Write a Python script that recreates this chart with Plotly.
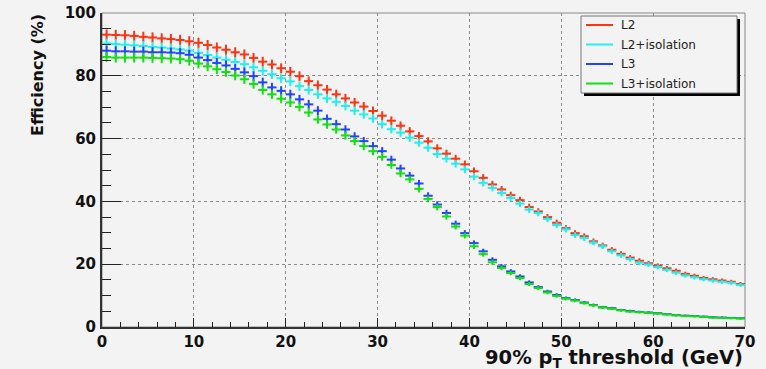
import numpy as np
import plotly.graph_objects as go

# ---- data (bin centres of 1 GeV bins, efficiencies in %) ----
threshold = [i + 0.5 for i in range(70)]
bin_half_width = 0.5

eff_L2 = [93.1, 93.0, 92.9, 92.7, 92.4, 92.2, 91.9, 91.7, 91.4, 91.0,
          90.5, 89.8, 89.0, 88.3, 87.5, 86.8, 85.7, 84.5, 83.6, 82.4,
          81.3, 79.9, 78.3, 77.0, 75.6, 74.1, 72.8, 71.5, 70.2, 68.8,
          67.3, 65.7, 64.1, 62.3, 60.8, 59.1, 56.9, 55.2, 53.6, 51.8,
          49.6, 47.5, 45.4, 43.8, 42.0, 40.4, 38.2, 36.8, 35.0, 33.2,
          31.5, 29.9, 28.9, 27.3, 26.0, 24.6, 23.3, 22.1, 21.1, 20.3,
          19.5, 18.7, 17.9, 16.9, 16.3, 15.6, 15.2, 14.8, 14.4, 13.7]
eff_L2_iso = [90.3, 90.1, 89.9, 89.7, 89.5, 89.2, 89.0, 88.7, 88.4, 88.0,
              87.3, 86.6, 85.8, 85.1, 84.4, 83.7, 82.7, 81.6, 80.5, 79.2,
              78.2, 76.7, 75.5, 74.1, 72.8, 71.7, 70.4, 68.9, 67.7, 66.4,
              64.6, 63.0, 61.9, 60.3, 58.7, 57.1, 55.1, 53.6, 52.0, 50.2,
              47.9, 45.9, 44.3, 42.7, 41.1, 39.3, 37.4, 36.3, 34.4, 32.5,
              31.1, 29.3, 28.3, 26.9, 25.7, 24.1, 22.8, 21.6, 20.5, 19.9,
              19.1, 18.2, 17.3, 16.4, 15.8, 15.2, 14.8, 14.4, 14.1, 13.4]
eff_L3 = [88.0, 87.8, 87.8, 87.7, 87.7, 87.5, 87.5, 87.4, 87.2, 86.7,
          85.8, 85.0, 84.1, 83.3, 82.2, 81.1, 79.9, 77.9, 76.3, 75.2,
          74.1, 72.5, 70.9, 68.9, 66.3, 64.6, 62.9, 60.7, 59.2, 57.6,
          56.0, 53.3, 50.5, 48.2, 45.7, 41.8, 39.0, 36.3, 32.9, 29.9,
          26.7, 24.1, 21.4, 19.3, 17.7, 16.1, 14.2, 12.7, 11.3, 10.2,
          9.2, 8.6, 7.8, 7.0, 6.3, 6.0, 5.4, 5.1, 4.8, 4.6,
          4.4, 4.1, 3.8, 3.6, 3.5, 3.3, 3.1, 3.0, 2.9, 2.8]
eff_L3_iso = [86.0, 85.8, 85.8, 85.8, 85.8, 85.7, 85.6, 85.5, 85.3, 84.8,
              83.9, 83.0, 82.1, 81.2, 80.1, 78.9, 77.4, 75.5, 74.1, 72.7,
              71.5, 70.1, 68.3, 66.1, 64.5, 62.9, 61.0, 59.2, 57.6, 56.0,
              54.2, 51.6, 48.9, 47.0, 44.0, 40.8, 38.2, 35.2, 32.0, 29.1,
              25.7, 23.2, 20.6, 18.8, 17.2, 15.6, 13.7, 12.4, 11.0, 9.9,
              9.0, 8.4, 7.6, 6.9, 6.2, 5.8, 5.3, 4.9, 4.7, 4.5,
              4.3, 4.0, 3.7, 3.5, 3.4, 3.2, 3.0, 2.9, 2.8, 2.7]

series_names = ["L2", "L2+isolation", "L3", "L3+isolation"]
series_values = [eff_L2, eff_L2_iso, eff_L3, eff_L3_iso]
series_colors = ["#ff3311", "#22eeee", "#2244ff", "#11e011"]
err_scale = 0.17  # statistical (Poisson-like) error ~ sqrt(value)

x_ticks = [0, 10, 20, 30, 40, 50, 60, 70]
y_ticks = [0, 20, 40, 60, 80, 100]

BG = "#f3f3f3"
W, H = 766, 369
ML, MR, MT, MB = 102, 21, 13, 42
PW, PH = W - ML - MR, H - MT - MB

def px_x(p):
    return (p - ML) / PW

def px_y(p):
    return (H - MB - p) / PH

fig = go.Figure()
for name, vals, col in zip(series_names, series_values, series_colors):
    v = np.array(vals)
    fig.add_trace(go.Scatter(
        x=threshold, y=v, mode="markers", name=name, showlegend=False,
        marker=dict(size=2, color=col),
        error_x=dict(type="constant", value=bin_half_width, color=col,
                     thickness=2, width=0),
        error_y=dict(type="data", array=err_scale * np.sqrt(v), color=col,
                     thickness=2, width=0),
    ))

bold_font = dict(family="DejaVu Sans", size=15, color="#111111", weight="bold")

fig.update_xaxes(
    range=[0, 70], tickvals=x_ticks, ticktext=[str(t) for t in x_ticks],
    ticks="inside", ticklen=9, tickwidth=1, tickcolor="#222222",
    minor=dict(dtick=2, tick0=0, ticks="inside", ticklen=5, tickcolor="#222222", showgrid=False),
    showgrid=True, gridcolor="#8a8a8a", griddash="dot", gridwidth=1,
    showline=True, linecolor="#333333", linewidth=2, zeroline=False,
    tickfont=bold_font, ticklabelstandoff=0, automargin=False,
)
fig.update_yaxes(
    range=[0, 100], tickvals=y_ticks, ticktext=[str(t) for t in y_ticks],
    ticks="inside", ticklen=19, tickwidth=1, tickcolor="#222222",
    minor=dict(dtick=5, tick0=0, ticks="inside", ticklen=9, tickcolor="#222222", showgrid=False),
    showgrid=True, gridcolor="#8a8a8a", griddash="dot", gridwidth=1,
    showline=True, linecolor="#333333", linewidth=2, zeroline=False,
    tickfont=bold_font, ticklabelstandoff=1, automargin=False,
)

shapes = [
    # frame top/right
    dict(type="rect", xref="paper", yref="paper", x0=0, x1=1, y0=0, y1=1,
         line=dict(color="#888888", width=1), fillcolor="rgba(0,0,0,0)", layer="below"),
    # legend shadow
    dict(type="rect", xref="paper", yref="paper", x0=px_x(584), x1=px_x(740),
         y0=px_y(96), y1=px_y(19), line=dict(width=0), fillcolor="#000000", layer="above"),
    # legend box
    dict(type="rect", xref="paper", yref="paper", x0=px_x(581), x1=px_x(737),
         y0=px_y(93), y1=px_y(16), line=dict(color="#777777", width=1), fillcolor=BG, layer="above"),
]
annotations = []
row_y = [25, 44.5, 64, 83.5]
for name, col, ry in zip(series_names, series_colors, row_y):
    shapes.append(dict(type="line", xref="paper", yref="paper", x0=px_x(586), x1=px_x(613),
                       y0=px_y(ry), y1=px_y(ry), line=dict(color=col, width=2), layer="above"))
    annotations.append(dict(xref="paper", yref="paper", x=px_x(619), y=px_y(ry), text=name,
                            showarrow=False, xanchor="left", yanchor="middle",
                            font=dict(family="DejaVu Sans", size=12, color="#222222")))

annotations.append(dict(xref="paper", yref="paper", x=px_x(38), y=px_y(12),
                        text="Efficiency (%)", textangle=-90, showarrow=False,
                        xanchor="center", yanchor="top",
                        font=dict(family="DejaVu Sans", size=16, color="#111111", weight="bold")))
annotations.append(dict(xref="paper", yref="paper", x=px_x(745), y=px_y(358),
                        text="90% p<sub>T</sub> threshold (GeV)", showarrow=False,
                        xanchor="right", yanchor="middle",
                        font=dict(family="DejaVu Sans", size=19.5, color="#111111", weight="bold")))

fig.update_layout(
    width=W, height=H, autosize=False,
    margin=dict(l=ML, r=MR, t=MT, b=MB, pad=0, autoexpand=False),
    paper_bgcolor=BG, plot_bgcolor=BG,
    shapes=shapes, annotations=annotations, showlegend=False,
)

fig.write_html("out.html", config={"displayModeBar": False},
               post_script="document.body.style.margin='0';document.body.style.background='%s';" % BG)
